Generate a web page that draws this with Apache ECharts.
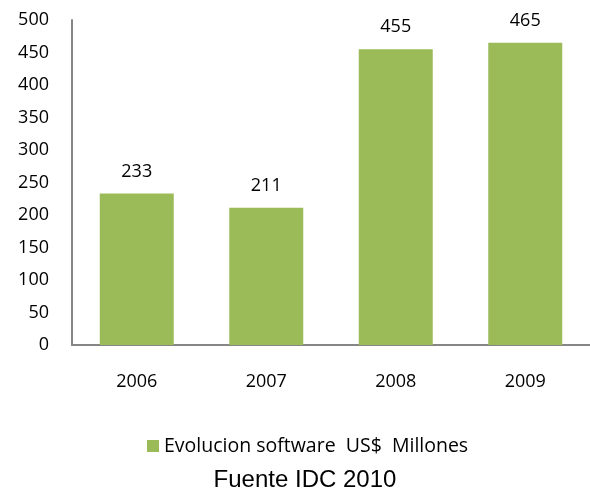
<!DOCTYPE html>
<html>
<head>
<meta charset="utf-8">
<script src="https://cdn.jsdelivr.net/npm/echarts@6/dist/echarts.min.js"></script>
<style>
  html, body { margin: 0; padding: 0; background: #ffffff; }
  #chart { width: 590px; height: 490px; }
</style>
</head>
<body>
<div id="chart"></div>
<script>
// Yearly software revenue (US$ millions)
const years = ['2006', '2007', '2008', '2009'];
const software = [233, 211, 455, 465];
const seriesName = 'Evolucion software  US$  Millones';
const sourceNote = 'Fuente IDC 2010';

const chart = echarts.init(document.getElementById('chart'));
chart.setOption({
  animation: false,
  textStyle: { fontFamily: '"Open Sans", "Noto Sans", sans-serif' },
  grid: { left: 72, right: 0, top: 20, bottom: 145 },
  title: {
    text: sourceNote,
    left: 300,
    textAlign: 'center',
    top: 463,
    textStyle: { fontFamily: '"Liberation Sans", Arial, sans-serif', fontSize: 24, fontWeight: 'normal', color: '#000000' }
  },
  legend: {
    data: [seriesName],
    left: 142,
    top: 431,
    icon: 'rect',
    itemWidth: 12,
    itemHeight: 12,
    itemGap: 6,
    textStyle: { fontSize: 19.5, color: '#000000' }
  },
  xAxis: {
    type: 'category',
    data: years,
    axisLine: { lineStyle: { color: '#868686', width: 2 } },
    axisTick: { show: false },
    axisLabel: { color: '#000000', fontSize: 18, margin: 28 }
  },
  yAxis: {
    type: 'value',
    min: 0,
    max: 500,
    interval: 50,
    axisLine: { show: true, lineStyle: { color: '#868686', width: 2 } },
    axisTick: { show: false },
    splitLine: { show: false },
    axisLabel: { color: '#000000', fontSize: 18, margin: 23 }
  },
  series: [{
    name: seriesName,
    type: 'bar',
    data: software,
    barWidth: 74,
    itemStyle: { color: '#9BBB59' },
    label: {
      show: true,
      position: 'top',
      distance: 13,
      color: '#000000',
      fontSize: 18
    }
  }]
});
</script>
</body>
</html>
